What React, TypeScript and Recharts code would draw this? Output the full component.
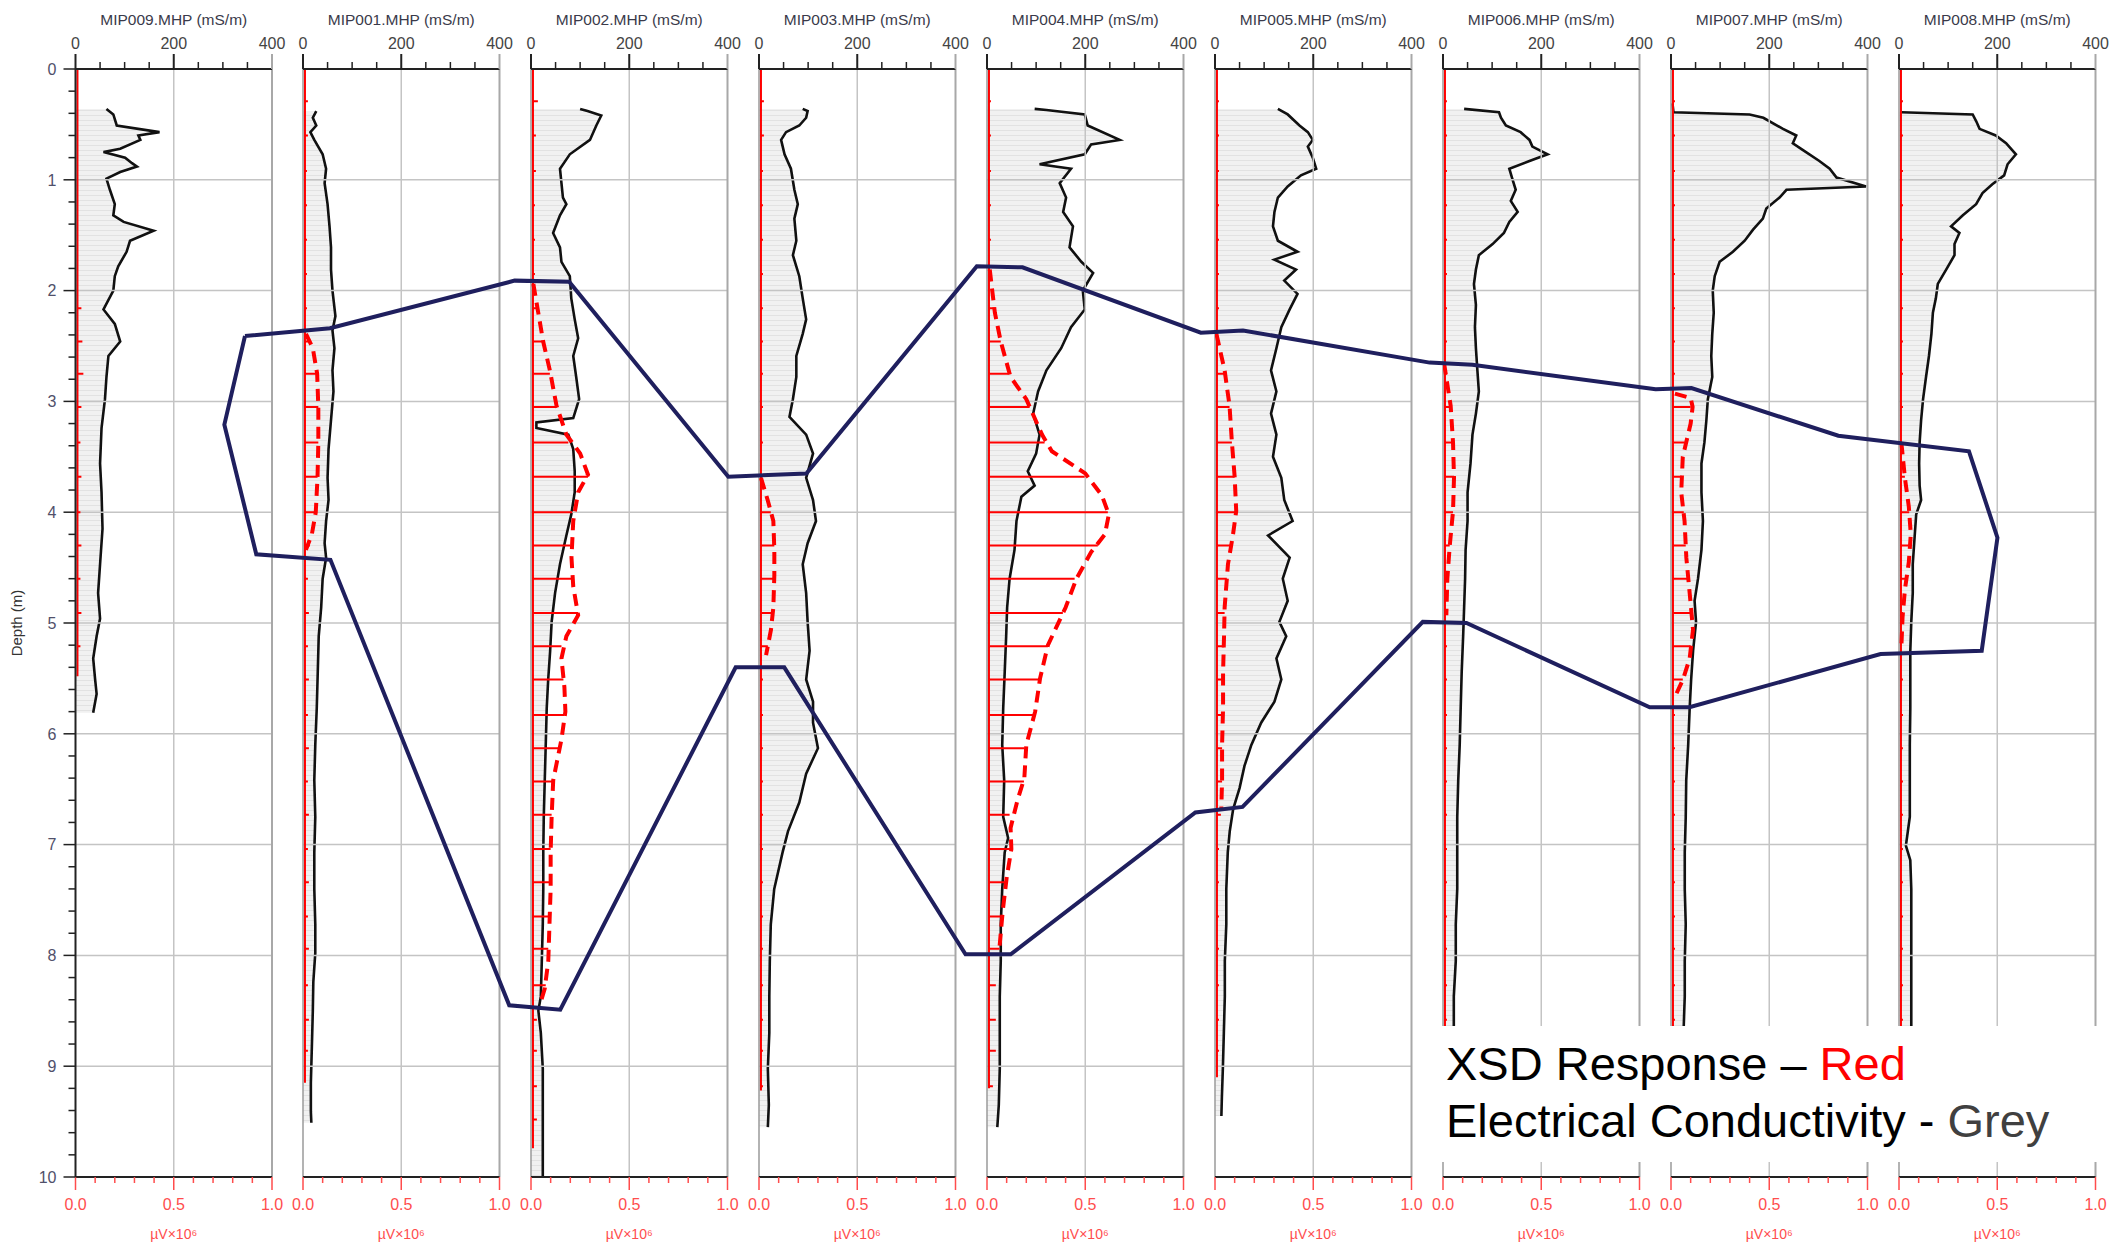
import React from 'react';
import { ComposedChart, Area, Line, XAxis, YAxis, ReferenceLine } from 'recharts';

// ---------- layout constants ----------
const PLOT_L0 = 75.5;
const PITCH = 227.9;
const PLOT_W = 196.5;
const PLOT_TOP = 69;
const PLOT_BOTTOM = 1177;
const CH = 1251;
const SIDE = 22;
const NARROW = "'Liberation Sans Narrow', 'Arial Narrow', 'Liberation Sans', Arial, sans-serif";
const SANS = "'Liberation Sans', Arial, sans-serif";

// ---------- data ----------
const TITLES = [
  'MIP009.MHP (mS/m)', 'MIP001.MHP (mS/m)', 'MIP002.MHP (mS/m)',
  'MIP003.MHP (mS/m)', 'MIP004.MHP (mS/m)', 'MIP005.MHP (mS/m)',
  'MIP006.MHP (mS/m)', 'MIP007.MHP (mS/m)', 'MIP008.MHP (mS/m)',
];

const EC_TICKS = [0, 50, 100, 150, 200, 250, 300, 350, 400];
const EC_LABELS = [0, 200, 400];
const XSD_TICKS = [0, 0.1, 0.2, 0.3, 0.4, 0.5, 0.6, 0.7, 0.8, 0.9, 1.0];
const XSD_LABELS = [0, 0.5, 1.0];
const DEPTH_LABELS = [0, 1, 2, 3, 4, 5, 6, 7, 8, 9, 10];
const DEPTH_MINOR_STEP = 0.2;

// Electrical conductivity profiles: [depth m, mS/m]
const EC_MIP009: [number, number][] = [[0.36,63],[0.41,77],[0.51,84],[0.57,171],[0.60,128],[0.64,132],[0.72,91],[0.75,57],[0.80,101],[0.85,115],[0.88,125],[0.93,91],[0.99,63],[1.09,70],[1.22,80],[1.32,77],[1.38,98],[1.46,159],[1.55,111],[1.65,104],[1.78,87],[1.87,80],[2.0,77],[2.17,57],[2.30,80],[2.46,91],[2.59,67],[2.78,63],[2.98,60],[3.24,53],[3.56,50],[3.82,53],[4.15,55],[4.47,50],[4.73,46],[4.96,50],[5.12,43],[5.32,36],[5.51,40],[5.64,43],[5.81,36]];
const EC_MIP001: [number, number][] = [[0.38,27],[0.44,20],[0.51,27],[0.57,15],[0.64,23],[0.77,40],[0.90,47],[1.03,44],[1.22,50],[1.42,54],[1.61,57],[1.81,57],[2.0,60],[2.23,66],[2.36,60],[2.52,64],[2.72,60],[2.91,62],[3.17,57],[3.43,52],[3.69,50],[3.89,52],[4.08,47],[4.28,44],[4.41,47],[4.60,40],[4.86,37],[5.12,32],[5.45,30],[5.77,28],[6.10,25],[6.42,23],[6.75,25],[7.07,23],[7.40,23],[7.72,25],[7.98,25],[8.24,21],[8.50,20],[8.83,18],[9.15,16],[9.41,16],[9.51,17]];
const EC_MIP002: [number, number][] = [[0.36,100],[0.38,115],[0.42,143],[0.51,133],[0.64,120],[0.77,79],[0.90,59],[1.03,62],[1.16,65],[1.22,72],[1.32,59],[1.48,45],[1.61,59],[1.74,62],[1.87,79],[2.07,82],[2.26,89],[2.43,96],[2.59,86],[2.78,92],[2.98,98],[3.15,86],[3.19,11],[3.24,11],[3.30,76],[3.43,86],[3.63,89],[3.82,89],[4.02,82],[4.21,72],[4.47,59],[4.73,49],[4.99,42],[5.25,39],[5.51,35],[5.77,32],[6.10,30],[6.42,28],[6.75,26],[7.07,25],[7.40,25],[7.72,24],[8.05,22],[8.37,20],[8.50,15],[8.70,20],[9.02,24],[9.35,24],[9.67,24],[10.0,24]];
const EC_MIP003: [number, number][] = [[0.36,89],[0.38,99],[0.44,96],[0.51,82],[0.57,55],[0.64,45],[0.77,52],[0.90,65],[1.09,72],[1.22,79],[1.35,72],[1.55,76],[1.68,69],[1.87,82],[2.07,89],[2.26,96],[2.39,89],[2.59,76],[2.78,76],[2.98,69],[3.14,62],[3.30,96],[3.47,110],[3.69,96],[3.89,110],[4.08,116],[4.28,99],[4.47,89],[4.73,96],[4.99,99],[5.25,103],[5.51,96],[5.71,110],[5.90,110],[6.13,120],[6.36,96],[6.62,82],[6.88,59],[7.07,48],[7.40,31],[7.72,24],[8.05,22],[8.37,21],[8.70,21],[9.02,18],[9.35,20],[9.55,18]];
const EC_MIP004: [number, number][] = [[0.36,97],[0.37,121],[0.41,199],[0.51,205],[0.64,270],[0.68,212],[0.77,199],[0.86,107],[0.90,171],[1.03,148],[1.16,161],[1.29,155],[1.42,175],[1.61,168],[1.74,192],[1.84,216],[2.0,195],[2.17,199],[2.33,171],[2.52,151],[2.72,121],[2.91,104],[3.11,94],[3.30,107],[3.47,100],[3.63,83],[3.76,97],[3.86,70],[4.08,60],[4.34,56],[4.60,46],[4.86,41],[5.12,39],[5.45,36],[5.77,33],[6.10,31],[6.42,35],[6.75,33],[6.94,43],[7.07,36],[7.40,31],[7.72,28],[8.05,28],[8.37,26],[8.70,26],[9.02,26],[9.35,24],[9.55,21]];
const EC_MIP005: [number, number][] = [[0.36,128],[0.41,148],[0.51,172],[0.57,189],[0.64,199],[0.70,189],[0.80,199],[0.90,206],[0.96,175],[1.06,148],[1.16,128],[1.29,121],[1.42,118],[1.55,128],[1.65,168],[1.72,121],[1.81,165],[1.91,141],[2.03,168],[2.17,152],[2.33,135],[2.52,125],[2.72,114],[2.91,125],[3.11,114],[3.30,125],[3.50,118],[3.69,135],[3.89,141],[4.08,158],[4.21,108],[4.41,152],[4.60,138],[4.80,148],[4.99,131],[5.12,145],[5.32,125],[5.51,135],[5.71,121],[5.90,94],[6.10,74],[6.29,60],[6.49,50],[6.68,37],[6.88,30],[7.07,26],[7.40,23],[7.72,23],[8.05,20],[8.37,20],[8.70,18],[9.02,16],[9.28,14],[9.45,13]];
const EC_MIP006: [number, number][] = [[0.36,43],[0.39,114],[0.44,118],[0.51,128],[0.57,158],[0.64,176],[0.70,182],[0.77,213],[0.83,176],[0.90,135],[0.99,141],[1.09,148],[1.19,138],[1.29,152],[1.38,135],[1.48,124],[1.58,101],[1.68,73],[1.81,67],[1.94,63],[2.13,67],[2.33,65],[2.52,67],[2.72,70],[2.91,73],[3.11,67],[3.30,60],[3.56,56],[3.82,50],[4.08,50],[4.34,46],[4.60,45],[4.86,43],[5.12,41],[5.45,38],[5.77,36],[6.10,34],[6.42,31],[6.75,29],[7.07,29],[7.40,29],[7.72,26],[8.05,26],[8.37,22],[8.70,22],[9.10,22],[9.50,21],[9.80,20]];
const EC_MIP007: [number, number][] = [[0.31,3],[0.39,5],[0.41,160],[0.44,188],[0.54,228],[0.60,255],[0.67,248],[0.73,268],[0.83,302],[0.90,323],[0.98,337],[1.06,397],[1.09,235],[1.16,221],[1.26,194],[1.35,187],[1.45,167],[1.55,150],[1.65,126],[1.74,99],[1.87,89],[2.0,85],[2.20,87],[2.39,84],[2.59,82],[2.78,84],[2.98,75],[3.17,72],[3.37,68],[3.56,62],[3.82,62],[4.08,65],[4.34,62],[4.60,55],[4.80,48],[4.99,51],[5.25,45],[5.51,41],[5.77,38],[6.10,35],[6.42,31],[6.75,30],[7.07,28],[7.40,28],[7.72,30],[8.05,28],[8.37,28],[8.63,26],[9.00,26],[9.40,25],[9.80,25]];
const EC_MIP008: [number, number][] = [[0.39,5],[0.41,150],[0.47,157],[0.54,164],[0.60,197],[0.67,218],[0.77,238],[0.86,221],[0.96,214],[1.04,190],[1.12,170],[1.22,157],[1.32,130],[1.42,106],[1.48,123],[1.58,113],[1.68,113],[1.81,96],[1.94,79],[2.07,75],[2.20,69],[2.39,66],[2.59,61],[2.78,55],[2.98,49],[3.17,45],[3.37,42],[3.56,41],[3.76,42],[3.89,45],[4.02,35],[4.21,32],[4.47,28],[4.73,28],[4.99,25],[5.25,23],[5.51,23],[5.77,23],[6.10,22],[6.42,22],[6.75,22],[7.01,14],[7.14,23],[7.40,25],[7.72,25],[8.05,25],[8.37,25],[8.63,25],[9.00,25],[9.40,25],[9.80,24]];

// XSD response samples (µV×10^6) at these depths
const XSD_BASE = 0.01;
const XSD_DEPTHS = [0.29,0.60,0.92,1.23,1.54,1.85,2.16,2.46,2.75,3.05,3.37,3.68,4.0,4.3,4.6,4.91,5.21,5.51,5.83,6.13,6.43,6.73,7.04,7.34,7.65,7.94,8.27,8.58,8.86,9.18,9.48,9.78];
const XSD_END = [5.48, 9.15, 9.74, 9.22, 9.2, 9.1, 9.85, 9.85, 9.85];
const XSD_MIP009 = [0.012,0.012,0.012,0.012,0.012,0.012,0.03,0.035,0.04,0.03,0.025,0.03,0.025,0.03,0.025,0.03,0.025];
const XSD_MIP001 = [0.025,0.025,0.02,0.02,0.02,0.02,0.02,0.03,0.072,0.078,0.078,0.074,0.065,0.035,0.025,0.03,0.025,0.03,0.025,0.03,0.025,0.03,0.025,0.03,0.025,0.03,0.025,0.03,0.025];
const XSD_MIP002 = [0.035,0.025,0.025,0.02,0.02,0.02,0.035,0.062,0.096,0.13,0.19,0.29,0.21,0.2,0.205,0.24,0.155,0.165,0.17,0.14,0.113,0.105,0.1,0.1,0.092,0.088,0.075,0.03,0.03,0.03,0.03];
const XSD_MIP003 = [0.025,0.025,0.02,0.02,0.02,0.02,0.02,0.02,0.02,0.02,0.02,0.015,0.06,0.078,0.078,0.072,0.045,0.02,0.02,0.02,0.02,0.02,0.02,0.02,0.02,0.02,0.02,0.02,0.02,0.02];
const XSD_MIP004 = [0.02,0.02,0.02,0.02,0.02,0.02,0.04,0.07,0.107,0.217,0.293,0.497,0.615,0.564,0.446,0.386,0.31,0.268,0.234,0.191,0.188,0.115,0.124,0.098,0.076,0.064,0.045,0.045,0.045,0.03];
const XSD_MIP005 = [0.02,0.02,0.02,0.02,0.02,0.02,0.02,0.025,0.05,0.074,0.086,0.1,0.108,0.085,0.06,0.049,0.046,0.041,0.041,0.036,0.036,0.03,0.02,0.02,0.02,0.02,0.02,0.02,0.02];
const XSD_MIP006 = [0.02,0.02,0.02,0.02,0.02,0.02,0.02,0.02,0.02,0.04,0.051,0.056,0.051,0.034,0.022,0.02,0.02,0.02,0.02,0.02,0.02,0.02,0.02,0.02,0.02,0.02,0.02,0.02,0.02,0.02,0.02,0.02];
const XSD_MIP007 = [0.02,0.02,0.02,0.02,0.02,0.02,0.02,0.02,0.02,0.1,0.07,0.055,0.065,0.075,0.09,0.105,0.1,0.06,0.02,0.02,0.02,0.02,0.02,0.02,0.02,0.02,0.02,0.02,0.02,0.02,0.02,0.02];
const XSD_MIP008 = [0.02,0.02,0.02,0.02,0.02,0.02,0.02,0.02,0.02,0.02,0.015,0.03,0.052,0.06,0.037,0.02,0.015,0.02,0.02,0.02,0.02,0.02,0.02,0.02,0.02,0.02,0.02,0.02,0.02,0.02,0.02,0.02];

// XSD response envelopes (dashed): [depth m, µV×10^6]
const ENV_MIP001: [number, number][] = [[2.39,0.015],[2.52,0.05],[2.75,0.072],[3.05,0.078],[3.37,0.078],[3.68,0.074],[4.0,0.065],[4.2,0.045],[4.34,0.015]];
const ENV_MIP002: [number, number][] = [[1.94,0.012],[2.2,0.037],[2.46,0.062],[2.72,0.096],[3.04,0.13],[3.3,0.18],[3.47,0.25],[3.66,0.29],[3.82,0.24],[4.08,0.215],[4.41,0.206],[4.67,0.215],[4.93,0.24],[5.12,0.18],[5.32,0.155],[5.58,0.17],[5.8,0.175],[6.05,0.155],[6.42,0.113],[6.75,0.105],[7.07,0.1],[7.4,0.1],[7.72,0.094],[8.05,0.088],[8.3,0.07],[8.44,0.046]];
const ENV_MIP003: [number, number][] = [[3.69,0.01],[3.89,0.044],[4.08,0.073],[4.34,0.078],[4.57,0.078],[4.86,0.073],[5.06,0.061],[5.29,0.036]];
const ENV_MIP004: [number, number][] = [[1.81,0.014],[2.2,0.04],[2.46,0.07],[2.78,0.12],[2.98,0.2],[3.3,0.28],[3.45,0.33],[3.65,0.5],[3.85,0.585],[4.02,0.62],[4.2,0.6],[4.36,0.53],[4.6,0.455],[4.86,0.4],[5.2,0.31],[5.5,0.27],[5.8,0.245],[6.1,0.2],[6.4,0.19],[6.6,0.155],[6.85,0.12],[7.04,0.124],[7.3,0.1],[7.6,0.08],[7.92,0.064]];
const ENV_MIP005: [number, number][] = [[2.39,0.007],[2.72,0.049],[3.04,0.074],[3.37,0.086],[3.68,0.1],[3.99,0.108],[4.21,0.091],[4.47,0.066],[4.86,0.049],[5.12,0.046],[5.45,0.041],[5.77,0.041],[6.1,0.036],[6.42,0.036],[6.68,0.032]];
const ENV_MIP006: [number, number][] = [[2.65,0.005],[3.04,0.039],[3.37,0.051],[3.69,0.056],[3.99,0.051],[4.31,0.034],[4.6,0.022],[4.93,0.017]];
const ENV_MIP007: [number, number][] = [[2.93,0.02],[2.97,0.1],[3.05,0.11],[3.2,0.1],[3.5,0.06],[3.82,0.052],[4.08,0.069],[4.41,0.078],[4.73,0.095],[5.06,0.112],[5.32,0.095],[5.51,0.061],[5.64,0.027]];
const ENV_MIP008: [number, number][] = [[3.37,0.012],[3.69,0.03],[3.95,0.05],[4.2,0.06],[4.45,0.05],[4.7,0.03],[4.95,0.018],[5.22,0.012]];

// Plume outline: [panel index, mS/m position relative to that panel, depth m]
const PLUME: [number, number, number][] = [
  [0,344,2.41],[1,53,2.34],[1,429,1.91],[2,76,1.92],[2,400,3.68],[3,95,3.65],[3,442,1.78],[4,71,1.79],
  [4,434,2.38],[5,56,2.36],[5,436,2.65],[6,59,2.67],[6,432,2.89],[7,41,2.88],[7,340,3.31],[8,142,3.45],
  [8,200,4.23],[8,168,5.25],[7,426,5.28],[7,37,5.76],[6,420,5.76],[6,47,5.0],[5,422,4.99],[5,55,6.66],
  [4,423,6.71],[4,47,7.99],[3,419,7.99],[3,50,5.40],[2,415,5.40],[2,58,8.49],[1,418,8.45],[1,54,4.43],
  [0,367,4.38],[0,302,3.21],[0,344,2.41],
];

const EC = [EC_MIP009, EC_MIP001, EC_MIP002, EC_MIP003, EC_MIP004, EC_MIP005, EC_MIP006, EC_MIP007, EC_MIP008];
const XSD = [XSD_MIP009, XSD_MIP001, XSD_MIP002, XSD_MIP003, XSD_MIP004, XSD_MIP005, XSD_MIP006, XSD_MIP007, XSD_MIP008];
const ENV: ([number, number][] | null)[] = [null, ENV_MIP001, ENV_MIP002, ENV_MIP003, ENV_MIP004, ENV_MIP005, ENV_MIP006, ENV_MIP007, ENV_MIP008];

// ---------- helpers ----------
const toPts = (arr: [number, number][]) => arr.map(([d, v]) => ({ d, v }));
function spikeSeries(values: number[], end: number) {
  const pts: { d: number; v: number }[] = [{ d: 0, v: XSD_BASE }];
  values.forEach((v, k) => {
    const d = XSD_DEPTHS[k];
    if (d < end) pts.push({ d, v: XSD_BASE }, { d, v }, { d, v: XSD_BASE });
  });
  pts.push({ d: end, v: XSD_BASE });
  return pts;
}
const depthTicks: number[] = [];
for (let k = 0; k <= 50; k++) depthTicks.push(Math.round(k * DEPTH_MINOR_STEP * 10) / 10);

const PITCH_U = (400 * PITCH) / PLOT_W;
const OV_MAX = 8 * PITCH_U + 400;
const OV_W = 8 * PITCH + PLOT_W;
const plumeData = PLUME.map(([p, ms, d]) => ({ x: p * PITCH_U + ms, d }));

// ---------- ticks ----------
const TopTick = (props: any) => {
  const { x, y, payload } = props;
  const v = payload.value;
  const major = EC_LABELS.includes(v);
  const col = v === 400 ? '#a8a8a8' : '#222';
  return (
    <g>
      <line x1={x} x2={x} y1={y} y2={y - (major ? 15 : 7)} stroke={col} strokeWidth={major ? 2 : 1.5} />
      {major && (
        <text x={x} y={y - 20} textAnchor="middle" fontSize={16} fill="#444" fontFamily={NARROW}>{v}</text>
      )}
    </g>
  );
};
const BottomTick = (props: any) => {
  const { x, y, payload } = props;
  const v = payload.value;
  const major = XSD_LABELS.some((m) => Math.abs(m - v) < 1e-9);
  return (
    <g>
      <line x1={x} x2={x} y1={y} y2={y + (major ? 13 : 6)} stroke="#ff4d4d" strokeWidth={1.5} />
      {major && (
        <text x={x} y={y + 33} textAnchor="middle" fontSize={16} fill="#ff4d4d" fontFamily={NARROW}>{v.toFixed(1)}</text>
      )}
    </g>
  );
};
const DepthTick = (props: any) => {
  const { x, y, payload } = props;
  const v = payload.value;
  const major = DEPTH_LABELS.includes(v);
  return (
    <g>
      <line x1={x} x2={x - (major ? 12 : 7)} y1={y} y2={y} stroke="#222" strokeWidth={1.5} />
      {major && (
        <text x={x - 19} y={y} dy="0.36em" textAnchor="end" fontSize={16} fill="#50506a" fontFamily={NARROW}>{v}</text>
      )}
    </g>
  );
};

function Panel({ i }: { i: number }) {
  const first = i === 0;
  const left = first ? 0 : PLOT_L0 + i * PITCH - SIDE;
  const width = first ? PLOT_L0 + PLOT_W + SIDE : PLOT_W + 2 * SIDE;
  const ecData = toPts(EC[i]);
  const spikes = spikeSeries(XSD[i], XSD_END[i]);
  const env = ENV[i];
  const title = TITLES[i];
  return (
    <div style={{ position: 'absolute', left, top: 0 }}>
      <ComposedChart layout="vertical" width={width} height={CH}
        margin={{ top: 0, bottom: 0, left: first ? 0 : SIDE, right: SIDE }}>
        <defs>
          <pattern id={`hatch${i}`} width={6} height={5} patternUnits="userSpaceOnUse">
            <rect width={6} height={5} fill="#f1f1f1" />
            <line x1={0} x2={6} y1={0.5} y2={0.5} stroke="#e2e2e2" strokeWidth={1} />
          </pattern>
        </defs>
        <XAxis xAxisId="ec" orientation="top" type="number" domain={[0, 400]} ticks={EC_TICKS}
          allowDataOverflow interval={0} height={PLOT_TOP} tickSize={0} tickMargin={0} tickLine={false}
          tick={TopTick} axisLine={{ stroke: '#222', strokeWidth: 2 }}
          label={(p: any) => {
            const vb = p.viewBox;
            return (
              <text x={vb.x + vb.width / 2} y={25} textAnchor="middle" fontSize={15.5} fill="#3a3a4a" fontFamily={NARROW}>{title}</text>
            );
          }} />
        <XAxis xAxisId="xsd" orientation="bottom" type="number" domain={[0, 1]} ticks={XSD_TICKS}
          allowDataOverflow interval={0} height={CH - PLOT_BOTTOM} tickSize={0} tickMargin={0} tickLine={false}
          tick={BottomTick} axisLine={{ stroke: '#222', strokeWidth: 2 }}
          label={(p: any) => {
            const vb = p.viewBox;
            return (
              <text x={vb.x + vb.width / 2} y={CH - 12} textAnchor="middle" fontSize={14} fill="#ff4d4d" fontFamily={NARROW}>µV×10⁶</text>
            );
          }} />
        <YAxis yAxisId="d" type="number" dataKey="d" domain={[0, 10]} allowDataOverflow
          hide={!first} width={PLOT_L0} ticks={depthTicks} interval={0} tickSize={0} tickMargin={0}
          tickLine={false} tick={DepthTick} axisLine={{ stroke: '#222', strokeWidth: 2 }}
          label={(p: any) => {
            const vb = p.viewBox;
            const cx = 17;
            const cy = vb.y + vb.height / 2;
            return (
              <text x={cx} y={cy} transform={`rotate(-90, ${cx}, ${cy})`} textAnchor="middle" dy="0.35em"
                fontSize={15} fill="#333" fontFamily={SANS}>Depth (m)</text>
            );
          }} />
        <Area xAxisId="ec" yAxisId="d" data={ecData} dataKey="v" type="linear" stroke="#111"
          strokeWidth={2.6} fill={`url(#hatch${i})`} fillOpacity={1} dot={false} activeDot={false}
          isAnimationActive={false} />
        {DEPTH_LABELS.slice(1, 10).map((d) => (
          <ReferenceLine key={`h${d}`} xAxisId="ec" yAxisId="d" y={d} stroke="#c4c4c4" strokeWidth={1.5} />
        ))}
        <ReferenceLine xAxisId="ec" yAxisId="d" x={200} stroke="#c4c4c4" strokeWidth={1.5} />
        <ReferenceLine xAxisId="ec" yAxisId="d" x={400} stroke="#a8a8a8" strokeWidth={2} />
        {!first && <ReferenceLine xAxisId="ec" yAxisId="d" x={0} stroke="#9a9a9a" strokeWidth={1.5} />}
        <Line xAxisId="xsd" yAxisId="d" data={spikes} dataKey="v" type="linear" stroke="#ff0000"
          strokeWidth={2} dot={false} activeDot={false} isAnimationActive={false} />
        {env && (
          <Line xAxisId="xsd" yAxisId="d" data={toPts(env)} dataKey="v" type="linear" stroke="#ff0000"
            strokeWidth={4} strokeDasharray="12 7" dot={false} activeDot={false} isAnimationActive={false} />
        )}
      </ComposedChart>
    </div>
  );
}

export default function App() {
  return (
    <div style={{ position: 'absolute', left: 0, top: 0, width: 2109, height: 1251, background: '#fff', overflow: 'hidden' }}>
      {TITLES.map((_, i) => <Panel key={i} i={i} />)}
      <div style={{ position: 'absolute', left: PLOT_L0, top: PLOT_TOP, pointerEvents: 'none' }}>
        <ComposedChart width={OV_W} height={PLOT_BOTTOM - PLOT_TOP} margin={{ top: 0, right: 0, bottom: 0, left: 0 }}>
          <XAxis type="number" dataKey="x" domain={[0, OV_MAX]} hide allowDataOverflow />
          <YAxis type="number" domain={[0, 10]} reversed hide allowDataOverflow />
          <Line data={plumeData} dataKey="d" type="linear" stroke="#1f1f5e" strokeWidth={4}
            dot={false} activeDot={false} isAnimationActive={false} />
        </ComposedChart>
      </div>
      <div style={{ position: 'absolute', left: 1413, top: 1026, width: 2109 - 1413, height: 136, background: '#fff',
        fontFamily: SANS, fontSize: 47, lineHeight: '57px', paddingTop: 9, paddingLeft: 33, boxSizing: 'border-box', color: '#000', whiteSpace: 'nowrap' }}>
        <div>XSD Response – <span style={{ color: '#ff0000' }}>Red</span></div>
        <div>Electrical Conductivity - <span style={{ color: '#404040' }}>Grey</span></div>
      </div>
    </div>
  );
}
